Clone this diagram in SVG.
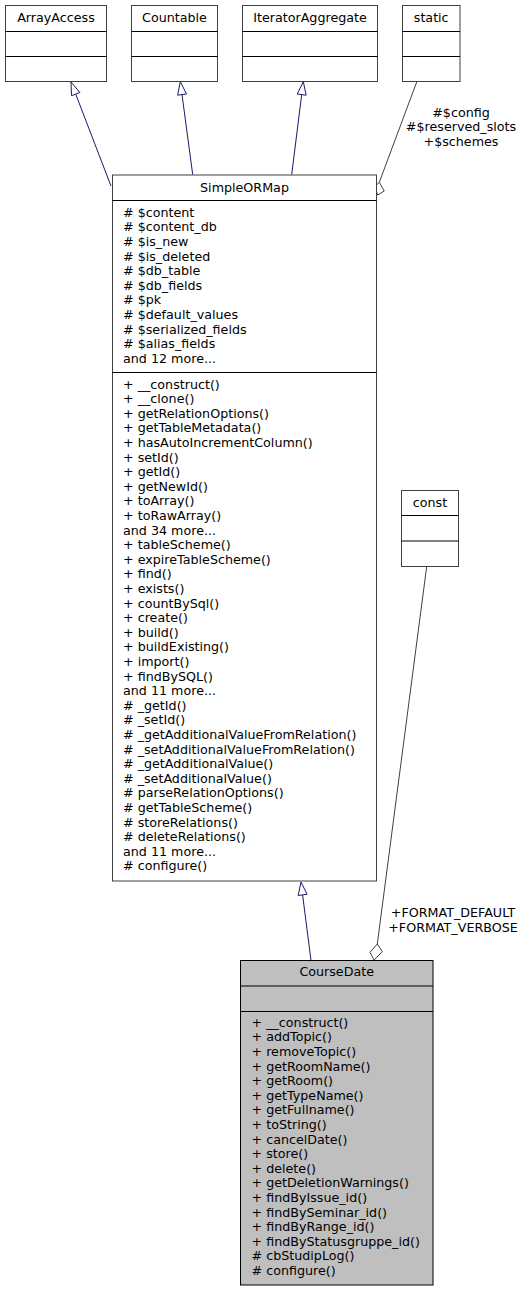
<svg xmlns="http://www.w3.org/2000/svg" width="529" height="1292" viewBox="0 0 529 1292">
<style>
text { font-family: "DejaVu Sans", "Liberation Sans", sans-serif; font-size: 12.7px; fill: #000; }
.box { fill: #ffffff; stroke: #404040; stroke-width: 1; }
.sel { fill: #bfbfbf; stroke: #000000; stroke-width: 1; }
.div { stroke: #000000; stroke-width: 1; }
.t { text-anchor: middle; }
.inh { fill: none; stroke: #191970; stroke-width: 1; }
.inhh { fill: #ffffff; stroke: #191970; stroke-width: 1; }
.agg { fill: none; stroke: #404040; stroke-width: 1; }
.aggh { fill: #ffffff; stroke: #404040; stroke-width: 1; }
</style>
<rect x="0" y="0" width="529" height="1292" fill="#ffffff"/>

<g id="connectors">
  <!-- ArrayAccess -> SimpleORMap -->
  <path class="inh" d="M111,186 L75.7,94.1"/>
  <polygon class="inhh" points="71,82 79.9,92.5 71.5,95.7"/>
  <!-- Countable -> SimpleORMap -->
  <path class="inh" d="M192.7,174.5 L182,94.6"/>
  <polygon class="inhh" points="180.3,81.7 186.5,94 177.6,95.2"/>
  <!-- IteratorAggregate -> SimpleORMap -->
  <path class="inh" d="M291.7,174.5 L301.7,94.6"/>
  <polygon class="inhh" points="303.3,81.7 306.2,95.2 297.2,94"/>
  <!-- static -> SimpleORMap -->
  <path class="agg" d="M416.7,82 L379.3,182.3"/>
  <polygon class="aggh" points="379.3,182.3 384.3,191 377.7,195 374.7,186.7"/>
  <text class="t" x="461" y="116.7">#$config</text>
  <text class="t" x="461" y="131.2">#$reserved_slots</text>
  <text class="t" x="461" y="145.7">+$schemes</text>
  <!-- SimpleORMap -> CourseDate -->
  <path class="inh" d="M311,960.5 L302.6,894.9"/>
  <polygon class="inhh" points="301,882 307.1,894.3 298.2,895.5"/>
  <!-- const -> CourseDate -->
  <path class="agg" d="M426.7,566.5 L377.3,944"/>
  <polygon class="aggh" points="377.3,944 382.3,951.7 374,960 370,952.3"/>
  <text class="t" x="453" y="917">+FORMAT_DEFAULT</text>
  <text class="t" x="453" y="931.6">+FORMAT_VERBOSE</text>
</g>

<g id="ArrayAccess">
  <rect class="box" x="5.5" y="5.5" width="101" height="76"/>
  <line class="div" x1="5.5" y1="31.5" x2="106.5" y2="31.5"/>
  <line class="div" x1="5.5" y1="56.5" x2="106.5" y2="56.5"/>
  <text class="t" x="56" y="21.8">ArrayAccess</text>
</g>

<g id="Countable">
  <rect class="box" x="131.5" y="5.5" width="86" height="76"/>
  <line class="div" x1="131.5" y1="31.5" x2="217.5" y2="31.5"/>
  <line class="div" x1="131.5" y1="56.5" x2="217.5" y2="56.5"/>
  <text class="t" x="174.5" y="21.8">Countable</text>
</g>

<g id="IteratorAggregate">
  <rect class="box" x="242.5" y="5.5" width="135" height="76"/>
  <line class="div" x1="242.5" y1="31.5" x2="377.5" y2="31.5"/>
  <line class="div" x1="242.5" y1="56.5" x2="377.5" y2="56.5"/>
  <text class="t" x="310" y="21.8">IteratorAggregate</text>
</g>

<g id="static">
  <rect class="box" x="402.5" y="5.5" width="57.5" height="76"/>
  <line class="div" x1="402.5" y1="31.5" x2="460" y2="31.5"/>
  <line class="div" x1="402.5" y1="56.5" x2="460" y2="56.5"/>
  <text class="t" x="431.2" y="21.8">static</text>
</g>

<g id="SimpleORMap">
  <rect class="box" x="112.5" y="175" width="264" height="706"/>
  <line class="div" x1="112.5" y1="200.5" x2="376.5" y2="200.5"/>
  <line class="div" x1="112.5" y1="372.5" x2="376.5" y2="372.5"/>
  <text class="t" x="244.5" y="191.5">SimpleORMap</text>
  <text x="123" y="216.7">
    <tspan x="123" dy="0"># $content</tspan>
    <tspan x="123" dy="14.6"># $content_db</tspan>
    <tspan x="123" dy="14.6"># $is_new</tspan>
    <tspan x="123" dy="14.6"># $is_deleted</tspan>
    <tspan x="123" dy="14.6"># $db_table</tspan>
    <tspan x="123" dy="14.6"># $db_fields</tspan>
    <tspan x="123" dy="14.6"># $pk</tspan>
    <tspan x="123" dy="14.6"># $default_values</tspan>
    <tspan x="123" dy="14.6"># $serialized_fields</tspan>
    <tspan x="123" dy="14.6"># $alias_fields</tspan>
    <tspan x="123" dy="14.6">and 12 more...</tspan>
  </text>
  <text x="123" y="388.5">
    <tspan x="123" dy="0">+ __construct()</tspan>
    <tspan x="123" dy="14.6">+ __clone()</tspan>
    <tspan x="123" dy="14.6">+ getRelationOptions()</tspan>
    <tspan x="123" dy="14.6">+ getTableMetadata()</tspan>
    <tspan x="123" dy="14.6">+ hasAutoIncrementColumn()</tspan>
    <tspan x="123" dy="14.6">+ setId()</tspan>
    <tspan x="123" dy="14.6">+ getId()</tspan>
    <tspan x="123" dy="14.6">+ getNewId()</tspan>
    <tspan x="123" dy="14.6">+ toArray()</tspan>
    <tspan x="123" dy="14.6">+ toRawArray()</tspan>
    <tspan x="123" dy="14.6">and 34 more...</tspan>
    <tspan x="123" dy="14.6">+ tableScheme()</tspan>
    <tspan x="123" dy="14.6">+ expireTableScheme()</tspan>
    <tspan x="123" dy="14.6">+ find()</tspan>
    <tspan x="123" dy="14.6">+ exists()</tspan>
    <tspan x="123" dy="14.6">+ countBySql()</tspan>
    <tspan x="123" dy="14.6">+ create()</tspan>
    <tspan x="123" dy="14.6">+ build()</tspan>
    <tspan x="123" dy="14.6">+ buildExisting()</tspan>
    <tspan x="123" dy="14.6">+ import()</tspan>
    <tspan x="123" dy="14.6">+ findBySQL()</tspan>
    <tspan x="123" dy="14.6">and 11 more...</tspan>
    <tspan x="123" dy="14.6"># _getId()</tspan>
    <tspan x="123" dy="14.6"># _setId()</tspan>
    <tspan x="123" dy="14.6"># _getAdditionalValueFromRelation()</tspan>
    <tspan x="123" dy="14.6"># _setAdditionalValueFromRelation()</tspan>
    <tspan x="123" dy="14.6"># _getAdditionalValue()</tspan>
    <tspan x="123" dy="14.6"># _setAdditionalValue()</tspan>
    <tspan x="123" dy="14.6"># parseRelationOptions()</tspan>
    <tspan x="123" dy="14.6"># getTableScheme()</tspan>
    <tspan x="123" dy="14.6"># storeRelations()</tspan>
    <tspan x="123" dy="14.6"># deleteRelations()</tspan>
    <tspan x="123" dy="14.6">and 11 more...</tspan>
    <tspan x="123" dy="14.6"># configure()</tspan>
  </text>
</g>

<g id="const">
  <rect class="box" x="401.5" y="490.5" width="57" height="76"/>
  <line class="div" x1="401.5" y1="515.5" x2="458.5" y2="515.5"/>
  <line class="div" x1="401.5" y1="541" x2="458.5" y2="541"/>
  <text class="t" x="430" y="506.6">const</text>
</g>

<g id="CourseDate">
  <rect class="sel" x="240.5" y="960.5" width="192.5" height="324.5"/>
  <line class="div" x1="240.5" y1="986" x2="433" y2="986"/>
  <line class="div" x1="240.5" y1="1011.5" x2="433" y2="1011.5"/>
  <text class="t" x="336.7" y="976.2">CourseDate</text>
  <text x="251.5" y="1026.7">
    <tspan x="251.5" dy="0">+ __construct()</tspan>
    <tspan x="251.5" dy="14.6">+ addTopic()</tspan>
    <tspan x="251.5" dy="14.6">+ removeTopic()</tspan>
    <tspan x="251.5" dy="14.6">+ getRoomName()</tspan>
    <tspan x="251.5" dy="14.6">+ getRoom()</tspan>
    <tspan x="251.5" dy="14.6">+ getTypeName()</tspan>
    <tspan x="251.5" dy="14.6">+ getFullname()</tspan>
    <tspan x="251.5" dy="14.6">+ toString()</tspan>
    <tspan x="251.5" dy="14.6">+ cancelDate()</tspan>
    <tspan x="251.5" dy="14.6">+ store()</tspan>
    <tspan x="251.5" dy="14.6">+ delete()</tspan>
    <tspan x="251.5" dy="14.6">+ getDeletionWarnings()</tspan>
    <tspan x="251.5" dy="14.6">+ findByIssue_id()</tspan>
    <tspan x="251.5" dy="14.6">+ findBySeminar_id()</tspan>
    <tspan x="251.5" dy="14.6">+ findByRange_id()</tspan>
    <tspan x="251.5" dy="14.6">+ findByStatusgruppe_id()</tspan>
    <tspan x="251.5" dy="14.6"># cbStudipLog()</tspan>
    <tspan x="251.5" dy="14.6"># configure()</tspan>
  </text>
</g>
</svg>
